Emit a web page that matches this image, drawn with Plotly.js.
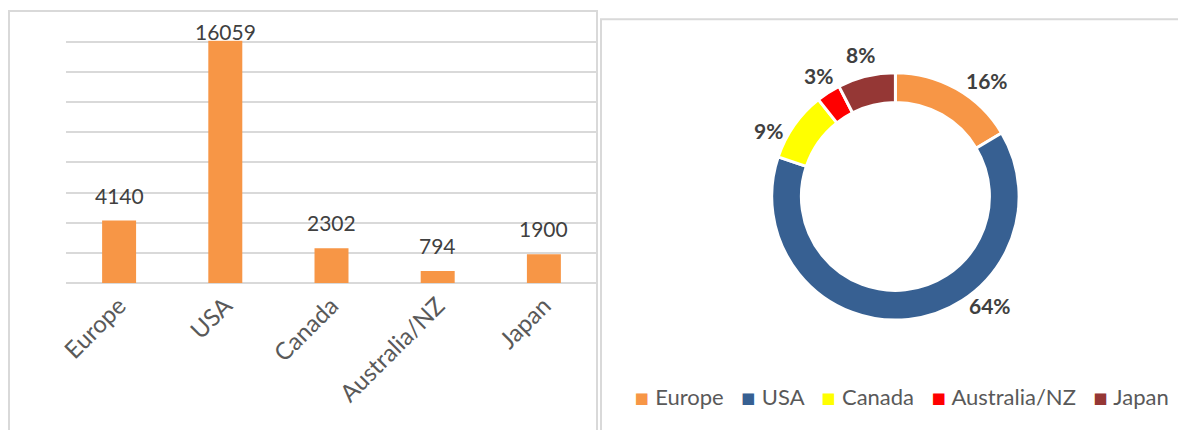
<!DOCTYPE html>
<html>
<head>
<meta charset="utf-8">
<script src="https://cdn.plot.ly/plotly-3.0.1.min.js"></script>
<style>
  html, body { margin: 0; padding: 0; background: #ffffff; overflow: hidden; width: 1178px; height: 430px; }
  #chart { width: 1178px; height: 430px; overflow: hidden; }
</style>
</head>
<body>
<div id="chart"></div>
<script>
// ---- data ----
const categories = ['Europe', 'USA', 'Canada', 'Australia/NZ', 'Japan'];
const values = [4140, 16059, 2302, 794, 1900];
const sliceColors = ['#F79646', '#376092', '#FFFF00', '#FF0000', '#953735'];
const barColor = '#F79646';

// ---- layout helpers (page pixels -> paper) ----
const W = 1178, H = 430;
const px = x => x / W;
const py = y => 1 - y / H;
const FONT = 'Lato, "Open Sans", sans-serif';

const gridMax = 16000;          // top gridline
const yMax = 16100;             // axis range top (so the 16000 gridline is drawn)
const gridTopPx = 41.7, plotBottom = 283;
const unitPx = (plotBottom - gridTopPx) / gridMax;
const plotTop = plotBottom - yMax * unitPx;

// bar data labels, placed above the bars (Excel style gap)
const barLabelAnn = values.map((v, i) => {
  const barTopPx = plotBottom - v * unitPx;
  const centerPx = Math.max(barTopPx - 25.5, 31);
  return {
    xref: 'x', yref: 'y', x: categories[i], y: v,
    text: String(v), showarrow: false,
    yanchor: 'middle', yshift: barTopPx - centerPx,
    font: { family: FONT, size: 21, color: '#404040' }
  };
});

// doughnut percentage labels
const total = values.reduce((a, b) => a + b, 0);
const pieLabelPos = [[986.7, 80], [989.5, 305], [768, 130], [818.5, 75.5], [860, 54.5]];
const pieLabelAnn = values.map((v, i) => ({
  xref: 'paper', yref: 'paper',
  x: px(pieLabelPos[i][0]), y: py(pieLabelPos[i][1]),
  xanchor: 'center', yanchor: 'middle',
  text: '<b>' + Math.round(v / total * 100) + '%</b>',
  showarrow: false,
  font: { family: FONT, size: 21, color: '#404040' }
}));

// legend (compact, Excel style) as one text line
const legendText = categories.map((c, i) =>
  '<span style="color:' + sliceColors[i] + ';font-size:23px;font-family:DejaVu Sans">\u25AA</span>&nbsp;' + c
).join('&nbsp;&nbsp;&nbsp;');
const legendAnn = {
  xref: 'paper', yref: 'paper',
  x: px(901.5), y: py(396),
  xanchor: 'center', yanchor: 'middle',
  text: legendText, showarrow: false,
  font: { family: FONT, size: 22, color: '#595959' }
};

const pieCx = 895.4, pieCy = 196.4, pieR = 123.7;

const data = [
  {
    type: 'bar',
    x: categories,
    y: values,
    marker: { color: barColor },
    showlegend: false,
    cliponaxis: false,
    hoverinfo: 'x+y'
  },
  {
    type: 'pie',
    labels: categories,
    values: values,
    hole: 0.76,
    sort: false,
    direction: 'clockwise',
    rotation: 0,
    marker: { colors: sliceColors, line: { color: '#ffffff', width: 3 } },
    textinfo: 'none',
    showlegend: false,
    hoverinfo: 'label+value+percent',
    domain: {
      x: [px(pieCx - 140), px(pieCx + 140)],
      y: [py(pieCy + pieR), py(pieCy - pieR)]
    }
  }
];

const layout = {
  width: W, height: H,
  margin: { l: 0, r: 0, t: 0, b: 0 },
  paper_bgcolor: '#ffffff',
  plot_bgcolor: 'rgba(0,0,0,0)',
  font: { family: FONT, color: '#595959' },
  bargap: 0.68,
  showlegend: false,
  xaxis: {
    domain: [px(66), px(597)],
    range: [-0.5, 4.5],
    tickangle: -45,
    ticklabelstandoff: 3,
    tickfont: { family: FONT, size: 24, color: '#595959' },
    showgrid: false, showline: false, zeroline: false, ticks: '',
    fixedrange: true
  },
  yaxis: {
    domain: [py(plotBottom), py(plotTop)],
    range: [0, yMax],
    tick0: 0, dtick: 2000,
    showticklabels: false,
    showgrid: true, gridcolor: '#D9D9D9', gridwidth: 2,
    zeroline: true, zerolinecolor: '#D9D9D9', zerolinewidth: 2,
    fixedrange: true
  },
  shapes: [
    { type: 'rect', xref: 'paper', yref: 'paper', layer: 'below',
      x0: px(9), x1: px(597), y0: py(432), y1: py(11),
      line: { color: '#D9D9D9', width: 2 }, fillcolor: 'rgba(0,0,0,0)' },
    { type: 'rect', xref: 'paper', yref: 'paper', layer: 'below',
      x0: px(601), x1: px(1181), y0: py(432), y1: py(19.3),
      line: { color: '#D9D9D9', width: 2 }, fillcolor: 'rgba(0,0,0,0)' }
  ],
  annotations: barLabelAnn.concat(pieLabelAnn, [legendAnn])
};

Plotly.newPlot('chart', data, layout, { displayModeBar: false, staticPlot: true });
</script>
</body>
</html>
